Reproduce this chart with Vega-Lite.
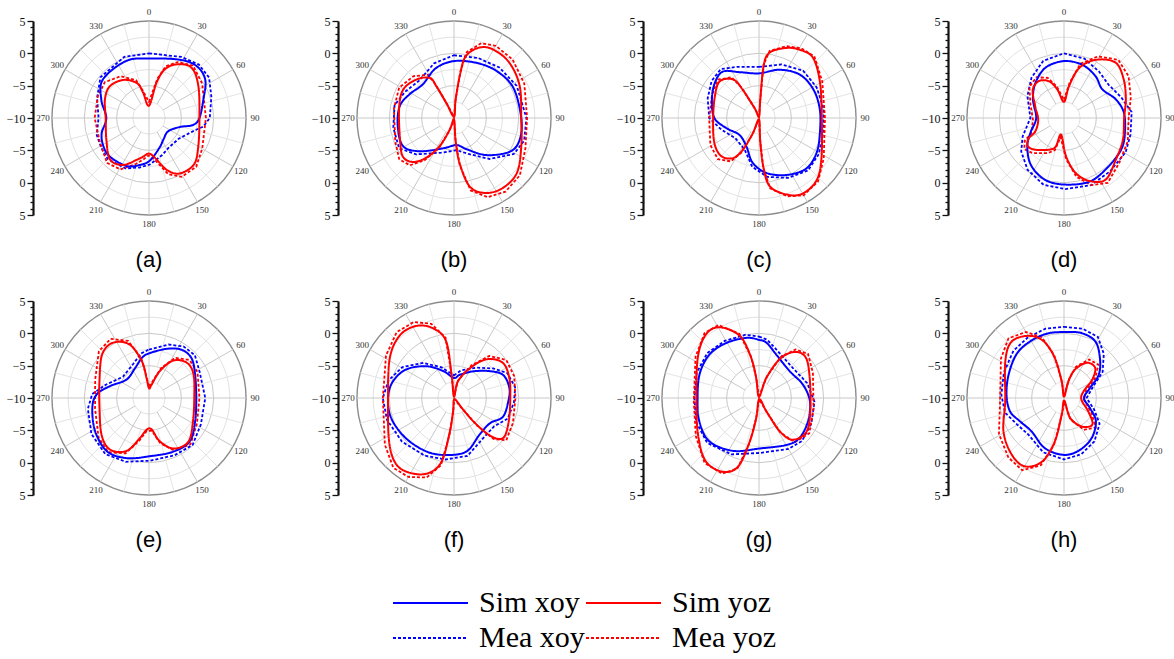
{
  "$schema": "https://vega.github.io/schema/vega-lite/v6.json",
  "background": "white",
  "padding": {"left": 6, "top": 7, "right": 0, "bottom": 0},
  "bounds": "flush",
  "columns": 4,
  "spacing": {"row": 86, "column": 111},
  "config": {"view": {"stroke": null}, "header": {"labels": false, "title": null}, "headerFacet": {"labels": false, "title": null}},
  "data": {"values": [
    {"k":"ring","g":-7.5,"p":["a","b","c","d","e","f","g","h"]},
    {"k":"ring","g":-5,"p":["a","b","c","d","e","f","g","h"]},
    {"k":"ring","g":-2.5,"p":["a","b","c","d","e","f","g","h"]},
    {"k":"ring","g":0,"p":["a","b","c","d","e","f","g","h"]},
    {"k":"ring","g":2.5,"p":["a","b","c","d","e","f","g","h"]},
    {"k":"ring","g":5,"p":["a","b","c","d","e","f","g","h"]},
    {"k":"spoke","a":0,"p":["a","b","c","d","e","f","g","h"]},
    {"k":"spoke","a":15,"p":["a","b","c","d","e","f","g","h"]},
    {"k":"spoke","a":30,"p":["a","b","c","d","e","f","g","h"]},
    {"k":"spoke","a":45,"p":["a","b","c","d","e","f","g","h"]},
    {"k":"spoke","a":60,"p":["a","b","c","d","e","f","g","h"]},
    {"k":"spoke","a":75,"p":["a","b","c","d","e","f","g","h"]},
    {"k":"spoke","a":90,"p":["a","b","c","d","e","f","g","h"]},
    {"k":"spoke","a":105,"p":["a","b","c","d","e","f","g","h"]},
    {"k":"spoke","a":120,"p":["a","b","c","d","e","f","g","h"]},
    {"k":"spoke","a":135,"p":["a","b","c","d","e","f","g","h"]},
    {"k":"spoke","a":150,"p":["a","b","c","d","e","f","g","h"]},
    {"k":"spoke","a":165,"p":["a","b","c","d","e","f","g","h"]},
    {"k":"spoke","a":180,"p":["a","b","c","d","e","f","g","h"]},
    {"k":"spoke","a":195,"p":["a","b","c","d","e","f","g","h"]},
    {"k":"spoke","a":210,"p":["a","b","c","d","e","f","g","h"]},
    {"k":"spoke","a":225,"p":["a","b","c","d","e","f","g","h"]},
    {"k":"spoke","a":240,"p":["a","b","c","d","e","f","g","h"]},
    {"k":"spoke","a":255,"p":["a","b","c","d","e","f","g","h"]},
    {"k":"spoke","a":270,"p":["a","b","c","d","e","f","g","h"]},
    {"k":"spoke","a":285,"p":["a","b","c","d","e","f","g","h"]},
    {"k":"spoke","a":300,"p":["a","b","c","d","e","f","g","h"]},
    {"k":"spoke","a":315,"p":["a","b","c","d","e","f","g","h"]},
    {"k":"spoke","a":330,"p":["a","b","c","d","e","f","g","h"]},
    {"k":"spoke","a":345,"p":["a","b","c","d","e","f","g","h"]},

    {"p":"a","s":"Sim xoy","a":0,"g":-0.8},{"p":"a","s":"Sim xoy","a":28,"g":0.2},{"p":"a","s":"Sim xoy","a":43,"g":0.9},{"p":"a","s":"Sim xoy","a":56,"g":0.5},{"p":"a","s":"Sim xoy","a":71,"g":-1.1},{"p":"a","s":"Sim xoy","a":90,"g":-2.2},{"p":"a","s":"Sim xoy","a":99,"g":-3.1},{"p":"a","s":"Sim xoy","a":106,"g":-5.0},{"p":"a","s":"Sim xoy","a":125,"g":-6.4},{"p":"a","s":"Sim xoy","a":146,"g":-6.0},{"p":"a","s":"Sim xoy","a":161,"g":-5.1},{"p":"a","s":"Sim xoy","a":179,"g":-3.4},{"p":"a","s":"Sim xoy","a":191,"g":-2.6},{"p":"a","s":"Sim xoy","a":205,"g":-1.8},{"p":"a","s":"Sim xoy","a":225,"g":-1.5},{"p":"a","s":"Sim xoy","a":238,"g":-1.7},{"p":"a","s":"Sim xoy","a":252,"g":-2.3},{"p":"a","s":"Sim xoy","a":270,"g":-3.4},{"p":"a","s":"Sim xoy","a":291,"g":-2.1},{"p":"a","s":"Sim xoy","a":310,"g":-0.7},{"p":"a","s":"Sim xoy","a":338,"g":-0.5},
    {"p":"a","s":"Mea xoy","a":0,"g":0.0},{"p":"a","s":"Mea xoy","a":28,"g":0.7},{"p":"a","s":"Mea xoy","a":43,"g":1.3},{"p":"a","s":"Mea xoy","a":56,"g":1.2},{"p":"a","s":"Mea xoy","a":71,"g":0.2},{"p":"a","s":"Mea xoy","a":90,"g":-0.6},{"p":"a","s":"Mea xoy","a":99,"g":-1.5},{"p":"a","s":"Mea xoy","a":106,"g":-2.8},{"p":"a","s":"Mea xoy","a":125,"g":-4.4},{"p":"a","s":"Mea xoy","a":146,"g":-4.5},{"p":"a","s":"Mea xoy","a":161,"g":-3.9},{"p":"a","s":"Mea xoy","a":179,"g":-2.8},{"p":"a","s":"Mea xoy","a":191,"g":-2.2},{"p":"a","s":"Mea xoy","a":205,"g":-1.4},{"p":"a","s":"Mea xoy","a":225,"g":-1.0},{"p":"a","s":"Mea xoy","a":238,"g":-1.3},{"p":"a","s":"Mea xoy","a":252,"g":-1.5},{"p":"a","s":"Mea xoy","a":270,"g":-2.2},{"p":"a","s":"Mea xoy","a":291,"g":-1.4},{"p":"a","s":"Mea xoy","a":310,"g":-0.2},{"p":"a","s":"Mea xoy","a":338,"g":0.2},
    {"p":"a","s":"Sim yoz","a":0,"g":-8.1},{"p":"a","s":"Sim yoz","a":12,"g":-4.4},{"p":"a","s":"Sim yoz","a":18,"g":-2.1},{"p":"a","s":"Sim yoz","a":27,"g":-0.7},{"p":"a","s":"Sim yoz","a":40,"g":0.2},{"p":"a","s":"Sim yoz","a":57,"g":-0.9},{"p":"a","s":"Sim yoz","a":90,"g":-2.2},{"p":"a","s":"Sim yoz","a":120,"g":-1.2},{"p":"a","s":"Sim yoz","a":136,"g":0.0},{"p":"a","s":"Sim yoz","a":151,"g":-0.2},{"p":"a","s":"Sim yoz","a":161,"g":-1.5},{"p":"a","s":"Sim yoz","a":173,"g":-4.0},{"p":"a","s":"Sim yoz","a":181,"g":-4.5},{"p":"a","s":"Sim yoz","a":188,"g":-4.0},{"p":"a","s":"Sim yoz","a":196,"g":-3.3},{"p":"a","s":"Sim yoz","a":209,"g":-1.7},{"p":"a","s":"Sim yoz","a":223,"g":-1.2},{"p":"a","s":"Sim yoz","a":243,"g":-2.6},{"p":"a","s":"Sim yoz","a":270,"g":-3.3},{"p":"a","s":"Sim yoz","a":293,"g":-2.6},{"p":"a","s":"Sim yoz","a":309,"g":-2.2},{"p":"a","s":"Sim yoz","a":326,"g":-2.9},{"p":"a","s":"Sim yoz","a":341,"g":-4.3},{"p":"a","s":"Sim yoz","a":347,"g":-6.0},
    {"p":"a","s":"Mea yoz","a":0,"g":-7.5},{"p":"a","s":"Mea yoz","a":12,"g":-3.8},{"p":"a","s":"Mea yoz","a":18,"g":-1.6},{"p":"a","s":"Mea yoz","a":27,"g":-0.3},{"p":"a","s":"Mea yoz","a":40,"g":0.6},{"p":"a","s":"Mea yoz","a":57,"g":-0.2},{"p":"a","s":"Mea yoz","a":90,"g":-1.2},{"p":"a","s":"Mea yoz","a":120,"g":-0.5},{"p":"a","s":"Mea yoz","a":136,"g":0.5},{"p":"a","s":"Mea yoz","a":151,"g":0.4},{"p":"a","s":"Mea yoz","a":161,"g":-0.8},{"p":"a","s":"Mea yoz","a":173,"g":-3.6},{"p":"a","s":"Mea yoz","a":181,"g":-4.2},{"p":"a","s":"Mea yoz","a":188,"g":-3.5},{"p":"a","s":"Mea yoz","a":196,"g":-2.6},{"p":"a","s":"Mea yoz","a":209,"g":-0.9},{"p":"a","s":"Mea yoz","a":223,"g":-0.5},{"p":"a","s":"Mea yoz","a":243,"g":-1.5},{"p":"a","s":"Mea yoz","a":270,"g":-1.6},{"p":"a","s":"Mea yoz","a":293,"g":-1.4},{"p":"a","s":"Mea yoz","a":309,"g":-1.2},{"p":"a","s":"Mea yoz","a":326,"g":-2.2},{"p":"a","s":"Mea yoz","a":341,"g":-3.8},{"p":"a","s":"Mea yoz","a":347,"g":-5.6},

    {"p":"b","s":"Sim xoy","a":0,"g":-1.2},{"p":"b","s":"Sim xoy","a":22,"g":-0.8},{"p":"b","s":"Sim xoy","a":42,"g":-0.2},{"p":"b","s":"Sim xoy","a":63,"g":0.3},{"p":"b","s":"Sim xoy","a":90,"g":0.4},{"p":"b","s":"Sim xoy","a":108,"g":0.7},{"p":"b","s":"Sim xoy","a":121,"g":0.1},{"p":"b","s":"Sim xoy","a":139,"g":-2.4},{"p":"b","s":"Sim xoy","a":158,"g":-4.8},{"p":"b","s":"Sim xoy","a":175,"g":-5.8},{"p":"b","s":"Sim xoy","a":200,"g":-5.0},{"p":"b","s":"Sim xoy","a":226,"g":-2.6},{"p":"b","s":"Sim xoy","a":241,"g":-1.0},{"p":"b","s":"Sim xoy","a":261,"g":-1.2},{"p":"b","s":"Sim xoy","a":282,"g":-1.4},{"p":"b","s":"Sim xoy","a":298,"g":-2.2},{"p":"b","s":"Sim xoy","a":317,"g":-2.9},{"p":"b","s":"Sim xoy","a":340,"g":-1.8},
    {"p":"b","s":"Mea xoy","a":0,"g":-0.3},{"p":"b","s":"Mea xoy","a":22,"g":0.0},{"p":"b","s":"Mea xoy","a":42,"g":0.5},{"p":"b","s":"Mea xoy","a":63,"g":0.9},{"p":"b","s":"Mea xoy","a":90,"g":1.2},{"p":"b","s":"Mea xoy","a":108,"g":1.4},{"p":"b","s":"Mea xoy","a":121,"g":0.8},{"p":"b","s":"Mea xoy","a":139,"g":-1.6},{"p":"b","s":"Mea xoy","a":158,"g":-4.0},{"p":"b","s":"Mea xoy","a":175,"g":-5.0},{"p":"b","s":"Mea xoy","a":200,"g":-4.3},{"p":"b","s":"Mea xoy","a":226,"g":-1.9},{"p":"b","s":"Mea xoy","a":241,"g":-0.3},{"p":"b","s":"Mea xoy","a":261,"g":-0.5},{"p":"b","s":"Mea xoy","a":282,"g":-0.6},{"p":"b","s":"Mea xoy","a":298,"g":-1.4},{"p":"b","s":"Mea xoy","a":317,"g":-2.1},{"p":"b","s":"Mea xoy","a":340,"g":-1.0},
    {"p":"b","s":"Sim yoz","a":0,"g":-9.8},{"p":"b","s":"Sim yoz","a":5,"g":-7.2},{"p":"b","s":"Sim yoz","a":8,"g":-3.0},{"p":"b","s":"Sim yoz","a":11,"g":-0.2},{"p":"b","s":"Sim yoz","a":20,"g":1.6},{"p":"b","s":"Sim yoz","a":30,"g":2.2},{"p":"b","s":"Sim yoz","a":45,"g":2.1},{"p":"b","s":"Sim yoz","a":64,"g":1.3},{"p":"b","s":"Sim yoz","a":90,"g":0.4},{"p":"b","s":"Sim yoz","a":113,"g":1.3},{"p":"b","s":"Sim yoz","a":131,"g":2.9},{"p":"b","s":"Sim yoz","a":145,"g":3.2},{"p":"b","s":"Sim yoz","a":157,"g":2.6},{"p":"b","s":"Sim yoz","a":167,"g":0.9},{"p":"b","s":"Sim yoz","a":173,"g":-3.0},{"p":"b","s":"Sim yoz","a":176,"g":-6.6},{"p":"b","s":"Sim yoz","a":180,"g":-9.8},{"p":"b","s":"Sim yoz","a":200,"g":-8.1},{"p":"b","s":"Sim yoz","a":207,"g":-5.1},{"p":"b","s":"Sim yoz","a":215,"g":-2.5},{"p":"b","s":"Sim yoz","a":223,"g":-0.7},{"p":"b","s":"Sim yoz","a":233,"g":-0.1},{"p":"b","s":"Sim yoz","a":248,"g":-1.0},{"p":"b","s":"Sim yoz","a":279,"g":-1.4},{"p":"b","s":"Sim yoz","a":299,"g":-1.0},{"p":"b","s":"Sim yoz","a":316,"g":-1.7},{"p":"b","s":"Sim yoz","a":329,"g":-2.8},{"p":"b","s":"Sim yoz","a":331,"g":-4.4},{"p":"b","s":"Sim yoz","a":333,"g":-7.4},
    {"p":"b","s":"Mea yoz","a":0,"g":-9.8},{"p":"b","s":"Mea yoz","a":5,"g":-7.0},{"p":"b","s":"Mea yoz","a":8,"g":-2.6},{"p":"b","s":"Mea yoz","a":11,"g":0.4},{"p":"b","s":"Mea yoz","a":20,"g":2.3},{"p":"b","s":"Mea yoz","a":30,"g":2.9},{"p":"b","s":"Mea yoz","a":45,"g":2.8},{"p":"b","s":"Mea yoz","a":64,"g":2.1},{"p":"b","s":"Mea yoz","a":90,"g":1.3},{"p":"b","s":"Mea yoz","a":113,"g":2.0},{"p":"b","s":"Mea yoz","a":131,"g":3.5},{"p":"b","s":"Mea yoz","a":145,"g":3.9},{"p":"b","s":"Mea yoz","a":157,"g":3.3},{"p":"b","s":"Mea yoz","a":167,"g":1.5},{"p":"b","s":"Mea yoz","a":173,"g":-2.6},{"p":"b","s":"Mea yoz","a":176,"g":-6.4},{"p":"b","s":"Mea yoz","a":180,"g":-9.8},{"p":"b","s":"Mea yoz","a":200,"g":-7.9},{"p":"b","s":"Mea yoz","a":207,"g":-4.7},{"p":"b","s":"Mea yoz","a":215,"g":-2.0},{"p":"b","s":"Mea yoz","a":223,"g":0.0},{"p":"b","s":"Mea yoz","a":233,"g":0.6},{"p":"b","s":"Mea yoz","a":248,"g":-0.2},{"p":"b","s":"Mea yoz","a":279,"g":-0.6},{"p":"b","s":"Mea yoz","a":299,"g":-0.3},{"p":"b","s":"Mea yoz","a":316,"g":-1.0},{"p":"b","s":"Mea yoz","a":329,"g":-2.2},{"p":"b","s":"Mea yoz","a":331,"g":-4.0},{"p":"b","s":"Mea yoz","a":333,"g":-7.2},

    {"p":"c","s":"Sim xoy","a":0,"g":-3.1},{"p":"c","s":"Sim xoy","a":23,"g":-1.9},{"p":"c","s":"Sim xoy","a":43,"g":-0.8},{"p":"c","s":"Sim xoy","a":62,"g":-0.5},{"p":"c","s":"Sim xoy","a":82,"g":-0.5},{"p":"c","s":"Sim xoy","a":104,"g":-0.3},{"p":"c","s":"Sim xoy","a":121,"g":0.4},{"p":"c","s":"Sim xoy","a":137,"g":0.7},{"p":"c","s":"Sim xoy","a":154,"g":-0.2},{"p":"c","s":"Sim xoy","a":172,"g":-1.4},{"p":"c","s":"Sim xoy","a":188,"g":-3.0},{"p":"c","s":"Sim xoy","a":204,"g":-5.2},{"p":"c","s":"Sim xoy","a":229,"g":-6.0},{"p":"c","s":"Sim xoy","a":253,"g":-4.7},{"p":"c","s":"Sim xoy","a":270,"g":-3.1},{"p":"c","s":"Sim xoy","a":291,"g":-2.2},{"p":"c","s":"Sim xoy","a":308,"g":-1.3},{"p":"c","s":"Sim xoy","a":322,"g":-0.9},{"p":"c","s":"Sim xoy","a":337,"g":-2.3},
    {"p":"c","s":"Mea xoy","a":0,"g":-2.1},{"p":"c","s":"Mea xoy","a":23,"g":-1.0},{"p":"c","s":"Mea xoy","a":43,"g":0.0},{"p":"c","s":"Mea xoy","a":62,"g":0.1},{"p":"c","s":"Mea xoy","a":82,"g":0.1},{"p":"c","s":"Mea xoy","a":104,"g":0.2},{"p":"c","s":"Mea xoy","a":121,"g":0.8},{"p":"c","s":"Mea xoy","a":137,"g":1.1},{"p":"c","s":"Mea xoy","a":154,"g":0.3},{"p":"c","s":"Mea xoy","a":172,"g":-0.8},{"p":"c","s":"Mea xoy","a":188,"g":-2.4},{"p":"c","s":"Mea xoy","a":204,"g":-4.6},{"p":"c","s":"Mea xoy","a":229,"g":-5.2},{"p":"c","s":"Mea xoy","a":253,"g":-3.9},{"p":"c","s":"Mea xoy","a":270,"g":-2.3},{"p":"c","s":"Mea xoy","a":291,"g":-1.5},{"p":"c","s":"Mea xoy","a":308,"g":-0.7},{"p":"c","s":"Mea xoy","a":322,"g":-0.4},{"p":"c","s":"Mea xoy","a":337,"g":-1.4},
    {"p":"c","s":"Sim yoz","a":0,"g":-9.8},{"p":"c","s":"Sim yoz","a":4,"g":-7.2},{"p":"c","s":"Sim yoz","a":5,"g":-2.0},{"p":"c","s":"Sim yoz","a":9,"g":0.2},{"p":"c","s":"Sim yoz","a":21,"g":1.6},{"p":"c","s":"Sim yoz","a":31,"g":2.3},{"p":"c","s":"Sim yoz","a":42,"g":2.5},{"p":"c","s":"Sim yoz","a":60,"g":0.9},{"p":"c","s":"Sim yoz","a":90,"g":-0.3},{"p":"c","s":"Sim yoz","a":122,"g":1.4},{"p":"c","s":"Sim yoz","a":137,"g":3.1},{"p":"c","s":"Sim yoz","a":150,"g":3.5},{"p":"c","s":"Sim yoz","a":160,"g":2.6},{"p":"c","s":"Sim yoz","a":171,"g":0.7},{"p":"c","s":"Sim yoz","a":175,"g":-2.5},{"p":"c","s":"Sim yoz","a":177,"g":-6.6},{"p":"c","s":"Sim yoz","a":180,"g":-9.8},{"p":"c","s":"Sim yoz","a":202,"g":-7.5},{"p":"c","s":"Sim yoz","a":207,"g":-4.5},{"p":"c","s":"Sim yoz","a":213,"g":-2.6},{"p":"c","s":"Sim yoz","a":225,"g":-1.7},{"p":"c","s":"Sim yoz","a":241,"g":-2.1},{"p":"c","s":"Sim yoz","a":268,"g":-2.9},{"p":"c","s":"Sim yoz","a":296,"g":-2.4},{"p":"c","s":"Sim yoz","a":313,"g":-1.7},{"p":"c","s":"Sim yoz","a":326,"g":-2.8},{"p":"c","s":"Sim yoz","a":330,"g":-4.9},{"p":"c","s":"Sim yoz","a":336,"g":-8.4},
    {"p":"c","s":"Mea yoz","a":0,"g":-9.8},{"p":"c","s":"Mea yoz","a":4,"g":-7.0},{"p":"c","s":"Mea yoz","a":5,"g":-1.7},{"p":"c","s":"Mea yoz","a":9,"g":0.5},{"p":"c","s":"Mea yoz","a":21,"g":1.9},{"p":"c","s":"Mea yoz","a":31,"g":2.6},{"p":"c","s":"Mea yoz","a":42,"g":2.8},{"p":"c","s":"Mea yoz","a":60,"g":1.3},{"p":"c","s":"Mea yoz","a":90,"g":0.2},{"p":"c","s":"Mea yoz","a":122,"g":1.8},{"p":"c","s":"Mea yoz","a":137,"g":3.4},{"p":"c","s":"Mea yoz","a":150,"g":3.8},{"p":"c","s":"Mea yoz","a":160,"g":2.9},{"p":"c","s":"Mea yoz","a":171,"g":1.0},{"p":"c","s":"Mea yoz","a":175,"g":-2.2},{"p":"c","s":"Mea yoz","a":177,"g":-6.4},{"p":"c","s":"Mea yoz","a":180,"g":-9.8},{"p":"c","s":"Mea yoz","a":202,"g":-7.2},{"p":"c","s":"Mea yoz","a":207,"g":-4.0},{"p":"c","s":"Mea yoz","a":213,"g":-2.0},{"p":"c","s":"Mea yoz","a":225,"g":-1.0},{"p":"c","s":"Mea yoz","a":241,"g":-1.4},{"p":"c","s":"Mea yoz","a":268,"g":-2.3},{"p":"c","s":"Mea yoz","a":296,"g":-1.9},{"p":"c","s":"Mea yoz","a":313,"g":-1.3},{"p":"c","s":"Mea yoz","a":326,"g":-2.4},{"p":"c","s":"Mea yoz","a":330,"g":-4.5},{"p":"c","s":"Mea yoz","a":336,"g":-8.2},

    {"p":"d","s":"Sim xoy","a":0,"g":-1.2},{"p":"d","s":"Sim xoy","a":19,"g":-1.3},{"p":"d","s":"Sim xoy","a":37,"g":-1.9},{"p":"d","s":"Sim xoy","a":53,"g":-2.6},{"p":"d","s":"Sim xoy","a":70,"g":-1.5},{"p":"d","s":"Sim xoy","a":85,"g":-0.7},{"p":"d","s":"Sim xoy","a":104,"g":-0.3},{"p":"d","s":"Sim xoy","a":119,"g":0.1},{"p":"d","s":"Sim xoy","a":139,"g":0.2},{"p":"d","s":"Sim xoy","a":158,"g":0.6},{"p":"d","s":"Sim xoy","a":179,"g":0.3},{"p":"d","s":"Sim xoy","a":197,"g":0.0},{"p":"d","s":"Sim xoy","a":215,"g":-1.1},{"p":"d","s":"Sim xoy","a":232,"g":-2.8},{"p":"d","s":"Sim xoy","a":246,"g":-4.3},{"p":"d","s":"Sim xoy","a":270,"g":-5.7},{"p":"d","s":"Sim xoy","a":301,"g":-4.4},{"p":"d","s":"Sim xoy","a":321,"g":-3.0},{"p":"d","s":"Sim xoy","a":340,"g":-1.7},
    {"p":"d","s":"Mea xoy","a":0,"g":0.0},{"p":"d","s":"Mea xoy","a":19,"g":-0.3},{"p":"d","s":"Mea xoy","a":37,"g":-1.0},{"p":"d","s":"Mea xoy","a":53,"g":-1.4},{"p":"d","s":"Mea xoy","a":70,"g":-0.6},{"p":"d","s":"Mea xoy","a":85,"g":0.5},{"p":"d","s":"Mea xoy","a":104,"g":0.6},{"p":"d","s":"Mea xoy","a":119,"g":0.9},{"p":"d","s":"Mea xoy","a":139,"g":0.9},{"p":"d","s":"Mea xoy","a":158,"g":1.2},{"p":"d","s":"Mea xoy","a":179,"g":1.0},{"p":"d","s":"Mea xoy","a":197,"g":0.8},{"p":"d","s":"Mea xoy","a":215,"g":-0.2},{"p":"d","s":"Mea xoy","a":232,"g":-1.6},{"p":"d","s":"Mea xoy","a":246,"g":-3.0},{"p":"d","s":"Mea xoy","a":270,"g":-4.8},{"p":"d","s":"Mea xoy","a":301,"g":-3.4},{"p":"d","s":"Mea xoy","a":321,"g":-2.0},{"p":"d","s":"Mea xoy","a":340,"g":-0.6},
    {"p":"d","s":"Sim yoz","a":0,"g":-7.5},{"p":"d","s":"Sim yoz","a":9,"g":-5.0},{"p":"d","s":"Sim yoz","a":17,"g":-1.9},{"p":"d","s":"Sim yoz","a":29,"g":0.3},{"p":"d","s":"Sim yoz","a":43,"g":1.7},{"p":"d","s":"Sim yoz","a":57,"g":1.0},{"p":"d","s":"Sim yoz","a":73,"g":0.0},{"p":"d","s":"Sim yoz","a":90,"g":-0.7},{"p":"d","s":"Sim yoz","a":110,"g":-0.3},{"p":"d","s":"Sim yoz","a":129,"g":0.3},{"p":"d","s":"Sim yoz","a":146,"g":1.5},{"p":"d","s":"Sim yoz","a":158,"g":0.5},{"p":"d","s":"Sim yoz","a":168,"g":-1.3},{"p":"d","s":"Sim yoz","a":177,"g":-4.1},{"p":"d","s":"Sim yoz","a":190,"g":-7.4},{"p":"d","s":"Sim yoz","a":196,"g":-5.4},{"p":"d","s":"Sim yoz","a":205,"g":-4.6},{"p":"d","s":"Sim yoz","a":222,"g":-3.4},{"p":"d","s":"Sim yoz","a":232,"g":-2.9},{"p":"d","s":"Sim yoz","a":240,"g":-3.7},{"p":"d","s":"Sim yoz","a":245,"g":-5.1},{"p":"d","s":"Sim yoz","a":266,"g":-6.0},{"p":"d","s":"Sim yoz","a":292,"g":-5.2},{"p":"d","s":"Sim yoz","a":312,"g":-3.5},{"p":"d","s":"Sim yoz","a":326,"g":-3.1},{"p":"d","s":"Sim yoz","a":338,"g":-3.9},{"p":"d","s":"Sim yoz","a":347,"g":-5.5},
    {"p":"d","s":"Mea yoz","a":0,"g":-7.2},{"p":"d","s":"Mea yoz","a":9,"g":-4.5},{"p":"d","s":"Mea yoz","a":17,"g":-1.2},{"p":"d","s":"Mea yoz","a":29,"g":0.9},{"p":"d","s":"Mea yoz","a":43,"g":2.3},{"p":"d","s":"Mea yoz","a":57,"g":1.9},{"p":"d","s":"Mea yoz","a":73,"g":0.8},{"p":"d","s":"Mea yoz","a":90,"g":0.0},{"p":"d","s":"Mea yoz","a":110,"g":0.5},{"p":"d","s":"Mea yoz","a":129,"g":1.0},{"p":"d","s":"Mea yoz","a":146,"g":2.1},{"p":"d","s":"Mea yoz","a":158,"g":1.2},{"p":"d","s":"Mea yoz","a":168,"g":-0.7},{"p":"d","s":"Mea yoz","a":177,"g":-3.6},{"p":"d","s":"Mea yoz","a":190,"g":-7.0},{"p":"d","s":"Mea yoz","a":196,"g":-4.8},{"p":"d","s":"Mea yoz","a":205,"g":-4.0},{"p":"d","s":"Mea yoz","a":222,"g":-2.7},{"p":"d","s":"Mea yoz","a":232,"g":-2.2},{"p":"d","s":"Mea yoz","a":240,"g":-3.0},{"p":"d","s":"Mea yoz","a":245,"g":-4.4},{"p":"d","s":"Mea yoz","a":266,"g":-5.2},{"p":"d","s":"Mea yoz","a":292,"g":-4.4},{"p":"d","s":"Mea yoz","a":312,"g":-2.8},{"p":"d","s":"Mea yoz","a":326,"g":-2.4},{"p":"d","s":"Mea yoz","a":338,"g":-3.3},{"p":"d","s":"Mea yoz","a":347,"g":-5.0},

    {"p":"e","s":"Sim xoy","a":0,"g":-3.1},{"p":"e","s":"Sim xoy","a":20,"g":-1.9},{"p":"e","s":"Sim xoy","a":34,"g":-1.0},{"p":"e","s":"Sim xoy","a":47,"g":-1.0},{"p":"e","s":"Sim xoy","a":63,"g":-2.0},{"p":"e","s":"Sim xoy","a":90,"g":-2.7},{"p":"e","s":"Sim xoy","a":117,"g":-2.0},{"p":"e","s":"Sim xoy","a":137,"g":-0.8},{"p":"e","s":"Sim xoy","a":156,"g":-0.9},{"p":"e","s":"Sim xoy","a":179,"g":-1.0},{"p":"e","s":"Sim xoy","a":200,"g":-0.1},{"p":"e","s":"Sim xoy","a":218,"g":0.5},{"p":"e","s":"Sim xoy","a":238,"g":-0.2},{"p":"e","s":"Sim xoy","a":260,"g":-1.1},{"p":"e","s":"Sim xoy","a":274,"g":-1.9},{"p":"e","s":"Sim xoy","a":287,"g":-3.7},{"p":"e","s":"Sim xoy","a":309,"g":-5.5},{"p":"e","s":"Sim xoy","a":335,"g":-4.9},{"p":"e","s":"Sim xoy","a":350,"g":-3.7},
    {"p":"e","s":"Mea xoy","a":0,"g":-2.5},{"p":"e","s":"Mea xoy","a":20,"g":-1.2},{"p":"e","s":"Mea xoy","a":34,"g":-0.4},{"p":"e","s":"Mea xoy","a":47,"g":-0.3},{"p":"e","s":"Mea xoy","a":63,"g":-1.2},{"p":"e","s":"Mea xoy","a":90,"g":-1.3},{"p":"e","s":"Mea xoy","a":117,"g":-1.0},{"p":"e","s":"Mea xoy","a":137,"g":-0.1},{"p":"e","s":"Mea xoy","a":156,"g":-0.3},{"p":"e","s":"Mea xoy","a":179,"g":-0.3},{"p":"e","s":"Mea xoy","a":200,"g":0.5},{"p":"e","s":"Mea xoy","a":218,"g":1.0},{"p":"e","s":"Mea xoy","a":238,"g":0.5},{"p":"e","s":"Mea xoy","a":260,"g":-0.4},{"p":"e","s":"Mea xoy","a":274,"g":-1.2},{"p":"e","s":"Mea xoy","a":287,"g":-3.0},{"p":"e","s":"Mea xoy","a":309,"g":-4.8},{"p":"e","s":"Mea xoy","a":335,"g":-4.2},{"p":"e","s":"Mea xoy","a":350,"g":-3.0},
    {"p":"e","s":"Sim yoz","a":0,"g":-8.5},{"p":"e","s":"Sim yoz","a":11,"g":-7.9},{"p":"e","s":"Sim yoz","a":22,"g":-5.5},{"p":"e","s":"Sim yoz","a":33,"g":-3.1},{"p":"e","s":"Sim yoz","a":47,"g":-2.0},{"p":"e","s":"Sim yoz","a":62,"g":-2.2},{"p":"e","s":"Sim yoz","a":90,"g":-3.0},{"p":"e","s":"Sim yoz","a":118,"g":-2.3},{"p":"e","s":"Sim yoz","a":138,"g":-0.9},{"p":"e","s":"Sim yoz","a":154,"g":-1.3},{"p":"e","s":"Sim yoz","a":166,"g":-3.1},{"p":"e","s":"Sim yoz","a":175,"g":-5.1},{"p":"e","s":"Sim yoz","a":184,"g":-5.1},{"p":"e","s":"Sim yoz","a":193,"g":-3.6},{"p":"e","s":"Sim yoz","a":203,"g":-1.1},{"p":"e","s":"Sim yoz","a":217,"g":0.0},{"p":"e","s":"Sim yoz","a":232,"g":-0.7},{"p":"e","s":"Sim yoz","a":259,"g":-2.2},{"p":"e","s":"Sim yoz","a":289,"g":-1.9},{"p":"e","s":"Sim yoz","a":313,"g":-0.1},{"p":"e","s":"Sim yoz","a":327,"g":0.2},{"p":"e","s":"Sim yoz","a":340,"g":-1.2},{"p":"e","s":"Sim yoz","a":349,"g":-4.2},{"p":"e","s":"Sim yoz","a":353,"g":-6.9},
    {"p":"e","s":"Mea yoz","a":0,"g":-8.2},{"p":"e","s":"Mea yoz","a":11,"g":-7.5},{"p":"e","s":"Mea yoz","a":22,"g":-5.0},{"p":"e","s":"Mea yoz","a":33,"g":-2.6},{"p":"e","s":"Mea yoz","a":47,"g":-1.4},{"p":"e","s":"Mea yoz","a":62,"g":-1.5},{"p":"e","s":"Mea yoz","a":90,"g":-2.2},{"p":"e","s":"Mea yoz","a":118,"g":-1.6},{"p":"e","s":"Mea yoz","a":138,"g":-0.4},{"p":"e","s":"Mea yoz","a":154,"g":-0.9},{"p":"e","s":"Mea yoz","a":166,"g":-2.8},{"p":"e","s":"Mea yoz","a":175,"g":-4.9},{"p":"e","s":"Mea yoz","a":184,"g":-4.9},{"p":"e","s":"Mea yoz","a":193,"g":-3.2},{"p":"e","s":"Mea yoz","a":203,"g":-0.7},{"p":"e","s":"Mea yoz","a":217,"g":0.5},{"p":"e","s":"Mea yoz","a":232,"g":-0.1},{"p":"e","s":"Mea yoz","a":259,"g":-1.5},{"p":"e","s":"Mea yoz","a":289,"g":-1.2},{"p":"e","s":"Mea yoz","a":313,"g":0.6},{"p":"e","s":"Mea yoz","a":327,"g":0.9},{"p":"e","s":"Mea yoz","a":340,"g":-0.6},{"p":"e","s":"Mea yoz","a":349,"g":-3.8},{"p":"e","s":"Mea yoz","a":353,"g":-6.6},

    {"p":"f","s":"Sim xoy","a":0,"g":-6.9},{"p":"f","s":"Sim xoy","a":14,"g":-6.3},{"p":"f","s":"Sim xoy","a":36,"g":-4.9},{"p":"f","s":"Sim xoy","a":53,"g":-3.1},{"p":"f","s":"Sim xoy","a":65,"g":-1.6},{"p":"f","s":"Sim xoy","a":80,"g":-1.3},{"p":"f","s":"Sim xoy","a":94,"g":-1.6},{"p":"f","s":"Sim xoy","a":111,"g":-1.9},{"p":"f","s":"Sim xoy","a":125,"g":-3.2},{"p":"f","s":"Sim xoy","a":145,"g":-3.1},{"p":"f","s":"Sim xoy","a":167,"g":-1.5},{"p":"f","s":"Sim xoy","a":188,"g":-1.1},{"p":"f","s":"Sim xoy","a":207,"g":-0.7},{"p":"f","s":"Sim xoy","a":230,"g":-0.3},{"p":"f","s":"Sim xoy","a":252,"g":0.2},{"p":"f","s":"Sim xoy","a":270,"g":0.2},{"p":"f","s":"Sim xoy","a":285,"g":-0.2},{"p":"f","s":"Sim xoy","a":301,"g":-1.4},{"p":"f","s":"Sim xoy","a":319,"g":-3.5},{"p":"f","s":"Sim xoy","a":338,"g":-5.5},
    {"p":"f","s":"Mea xoy","a":0,"g":-6.5},{"p":"f","s":"Mea xoy","a":14,"g":-5.6},{"p":"f","s":"Mea xoy","a":36,"g":-4.2},{"p":"f","s":"Mea xoy","a":53,"g":-2.4},{"p":"f","s":"Mea xoy","a":65,"g":-0.9},{"p":"f","s":"Mea xoy","a":80,"g":-0.4},{"p":"f","s":"Mea xoy","a":94,"g":-0.7},{"p":"f","s":"Mea xoy","a":111,"g":-1.1},{"p":"f","s":"Mea xoy","a":125,"g":-2.4},{"p":"f","s":"Mea xoy","a":145,"g":-2.3},{"p":"f","s":"Mea xoy","a":167,"g":-0.8},{"p":"f","s":"Mea xoy","a":188,"g":-0.4},{"p":"f","s":"Mea xoy","a":207,"g":0.0},{"p":"f","s":"Mea xoy","a":230,"g":0.5},{"p":"f","s":"Mea xoy","a":252,"g":0.9},{"p":"f","s":"Mea xoy","a":270,"g":1.0},{"p":"f","s":"Mea xoy","a":285,"g":0.5},{"p":"f","s":"Mea xoy","a":301,"g":-0.7},{"p":"f","s":"Mea xoy","a":319,"g":-2.8},{"p":"f","s":"Mea xoy","a":338,"g":-4.9},
    {"p":"f","s":"Sim yoz","a":0,"g":-9.8},{"p":"f","s":"Sim yoz","a":13,"g":-7.4},{"p":"f","s":"Sim yoz","a":28,"g":-4.8},{"p":"f","s":"Sim yoz","a":40,"g":-2.2},{"p":"f","s":"Sim yoz","a":54,"g":-0.7},{"p":"f","s":"Sim yoz","a":70,"g":-0.9},{"p":"f","s":"Sim yoz","a":90,"g":-1.3},{"p":"f","s":"Sim yoz","a":113,"g":-0.8},{"p":"f","s":"Sim yoz","a":129,"g":-0.2},{"p":"f","s":"Sim yoz","a":136,"g":-1.8},{"p":"f","s":"Sim yoz","a":140,"g":-4.9},{"p":"f","s":"Sim yoz","a":142,"g":-7.9},{"p":"f","s":"Sim yoz","a":160,"g":-9.8},{"p":"f","s":"Sim yoz","a":184,"g":-7.9},{"p":"f","s":"Sim yoz","a":187,"g":-4.8},{"p":"f","s":"Sim yoz","a":191,"g":0.0},{"p":"f","s":"Sim yoz","a":199,"g":2.3},{"p":"f","s":"Sim yoz","a":210,"g":3.4},{"p":"f","s":"Sim yoz","a":221,"g":3.6},{"p":"f","s":"Sim yoz","a":236,"g":2.1},{"p":"f","s":"Sim yoz","a":270,"g":0.2},{"p":"f","s":"Sim yoz","a":302,"g":1.7},{"p":"f","s":"Sim yoz","a":319,"g":2.8},{"p":"f","s":"Sim yoz","a":332,"g":2.6},{"p":"f","s":"Sim yoz","a":343,"g":1.3},{"p":"f","s":"Sim yoz","a":352,"g":-1.1},{"p":"f","s":"Sim yoz","a":354,"g":-6.4},
    {"p":"f","s":"Mea yoz","a":0,"g":-9.8},{"p":"f","s":"Mea yoz","a":13,"g":-7.2},{"p":"f","s":"Mea yoz","a":28,"g":-4.3},{"p":"f","s":"Mea yoz","a":40,"g":-1.5},{"p":"f","s":"Mea yoz","a":54,"g":0.0},{"p":"f","s":"Mea yoz","a":70,"g":-0.1},{"p":"f","s":"Mea yoz","a":90,"g":-0.5},{"p":"f","s":"Mea yoz","a":113,"g":-0.1},{"p":"f","s":"Mea yoz","a":129,"g":0.4},{"p":"f","s":"Mea yoz","a":136,"g":-1.2},{"p":"f","s":"Mea yoz","a":140,"g":-4.5},{"p":"f","s":"Mea yoz","a":142,"g":-7.7},{"p":"f","s":"Mea yoz","a":160,"g":-9.8},{"p":"f","s":"Mea yoz","a":184,"g":-7.7},{"p":"f","s":"Mea yoz","a":187,"g":-4.3},{"p":"f","s":"Mea yoz","a":191,"g":0.6},{"p":"f","s":"Mea yoz","a":199,"g":3.0},{"p":"f","s":"Mea yoz","a":210,"g":4.1},{"p":"f","s":"Mea yoz","a":221,"g":4.3},{"p":"f","s":"Mea yoz","a":236,"g":2.9},{"p":"f","s":"Mea yoz","a":270,"g":1.0},{"p":"f","s":"Mea yoz","a":302,"g":2.4},{"p":"f","s":"Mea yoz","a":319,"g":3.5},{"p":"f","s":"Mea yoz","a":332,"g":3.3},{"p":"f","s":"Mea yoz","a":343,"g":2.0},{"p":"f","s":"Mea yoz","a":352,"g":-0.6},{"p":"f","s":"Mea yoz","a":354,"g":-6.2},

    {"p":"g","s":"Sim xoy","a":0,"g":-1.0},{"p":"g","s":"Sim xoy","a":8,"g":-1.4},{"p":"g","s":"Sim xoy","a":22,"g":-2.8},{"p":"g","s":"Sim xoy","a":49,"g":-3.7},{"p":"g","s":"Sim xoy","a":73,"g":-2.9},{"p":"g","s":"Sim xoy","a":94,"g":-2.1},{"p":"g","s":"Sim xoy","a":116,"g":-1.6},{"p":"g","s":"Sim xoy","a":135,"g":-1.2},{"p":"g","s":"Sim xoy","a":150,"g":-1.6},{"p":"g","s":"Sim xoy","a":179,"g":-2.2},{"p":"g","s":"Sim xoy","a":206,"g":-0.9},{"p":"g","s":"Sim xoy","a":229,"g":0.2},{"p":"g","s":"Sim xoy","a":249,"g":-0.1},{"p":"g","s":"Sim xoy","a":270,"g":-0.5},{"p":"g","s":"Sim xoy","a":292,"g":-0.1},{"p":"g","s":"Sim xoy","a":311,"g":0.2},{"p":"g","s":"Sim xoy","a":329,"g":-0.1},{"p":"g","s":"Sim xoy","a":348,"g":-0.5},
    {"p":"g","s":"Mea xoy","a":0,"g":-0.5},{"p":"g","s":"Mea xoy","a":8,"g":-0.9},{"p":"g","s":"Mea xoy","a":22,"g":-2.2},{"p":"g","s":"Mea xoy","a":49,"g":-3.0},{"p":"g","s":"Mea xoy","a":73,"g":-2.2},{"p":"g","s":"Mea xoy","a":94,"g":-1.4},{"p":"g","s":"Mea xoy","a":116,"g":-1.0},{"p":"g","s":"Mea xoy","a":135,"g":-0.6},{"p":"g","s":"Mea xoy","a":150,"g":-0.9},{"p":"g","s":"Mea xoy","a":179,"g":-1.5},{"p":"g","s":"Mea xoy","a":206,"g":-0.3},{"p":"g","s":"Mea xoy","a":229,"g":0.6},{"p":"g","s":"Mea xoy","a":249,"g":0.4},{"p":"g","s":"Mea xoy","a":270,"g":0.0},{"p":"g","s":"Mea xoy","a":292,"g":0.4},{"p":"g","s":"Mea xoy","a":311,"g":0.6},{"p":"g","s":"Mea xoy","a":329,"g":0.3},{"p":"g","s":"Mea xoy","a":348,"g":0.0},
    {"p":"g","s":"Sim yoz","a":0,"g":-9.8},{"p":"g","s":"Sim yoz","a":20,"g":-6.7},{"p":"g","s":"Sim yoz","a":28,"g":-3.2},{"p":"g","s":"Sim yoz","a":37,"g":-1.1},{"p":"g","s":"Sim yoz","a":48,"g":-0.4},{"p":"g","s":"Sim yoz","a":65,"g":-1.4},{"p":"g","s":"Sim yoz","a":101,"g":-1.9},{"p":"g","s":"Sim yoz","a":125,"g":-1.0},{"p":"g","s":"Sim yoz","a":141,"g":-1.7},{"p":"g","s":"Sim yoz","a":148,"g":-3.9},{"p":"g","s":"Sim yoz","a":151,"g":-7.6},{"p":"g","s":"Sim yoz","a":170,"g":-9.8},{"p":"g","s":"Sim yoz","a":188,"g":-6.9},{"p":"g","s":"Sim yoz","a":192,"g":-3.1},{"p":"g","s":"Sim yoz","a":197,"g":1.1},{"p":"g","s":"Sim yoz","a":206,"g":2.7},{"p":"g","s":"Sim yoz","a":220,"g":2.8},{"p":"g","s":"Sim yoz","a":239,"g":1.0},{"p":"g","s":"Sim yoz","a":267,"g":-0.3},{"p":"g","s":"Sim yoz","a":303,"g":1.3},{"p":"g","s":"Sim yoz","a":320,"g":2.8},{"p":"g","s":"Sim yoz","a":331,"g":2.5},{"p":"g","s":"Sim yoz","a":343,"g":0.0},{"p":"g","s":"Sim yoz","a":349,"g":-3.7},{"p":"g","s":"Sim yoz","a":352,"g":-6.9},
    {"p":"g","s":"Mea yoz","a":0,"g":-9.8},{"p":"g","s":"Mea yoz","a":20,"g":-6.5},{"p":"g","s":"Mea yoz","a":28,"g":-2.8},{"p":"g","s":"Mea yoz","a":37,"g":-0.6},{"p":"g","s":"Mea yoz","a":48,"g":0.2},{"p":"g","s":"Mea yoz","a":65,"g":-0.8},{"p":"g","s":"Mea yoz","a":101,"g":-1.4},{"p":"g","s":"Mea yoz","a":125,"g":-0.5},{"p":"g","s":"Mea yoz","a":141,"g":-1.2},{"p":"g","s":"Mea yoz","a":148,"g":-3.6},{"p":"g","s":"Mea yoz","a":151,"g":-7.4},{"p":"g","s":"Mea yoz","a":170,"g":-9.8},{"p":"g","s":"Mea yoz","a":188,"g":-6.7},{"p":"g","s":"Mea yoz","a":192,"g":-2.8},{"p":"g","s":"Mea yoz","a":197,"g":1.4},{"p":"g","s":"Mea yoz","a":206,"g":3.0},{"p":"g","s":"Mea yoz","a":220,"g":3.1},{"p":"g","s":"Mea yoz","a":239,"g":1.4},{"p":"g","s":"Mea yoz","a":267,"g":0.1},{"p":"g","s":"Mea yoz","a":303,"g":1.7},{"p":"g","s":"Mea yoz","a":320,"g":3.1},{"p":"g","s":"Mea yoz","a":331,"g":2.9},{"p":"g","s":"Mea yoz","a":343,"g":0.4},{"p":"g","s":"Mea yoz","a":349,"g":-3.4},{"p":"g","s":"Mea yoz","a":352,"g":-6.7},

    {"p":"h","s":"Sim xoy","a":0,"g":0.2},{"p":"h","s":"Sim xoy","a":15,"g":0.4},{"p":"h","s":"Sim xoy","a":29,"g":0.0},{"p":"h","s":"Sim xoy","a":42,"g":-1.7},{"p":"h","s":"Sim xoy","a":56,"g":-3.5},{"p":"h","s":"Sim xoy","a":69,"g":-5.7},{"p":"h","s":"Sim xoy","a":90,"g":-6.9},{"p":"h","s":"Sim xoy","a":111,"g":-5.7},{"p":"h","s":"Sim xoy","a":126,"g":-3.9},{"p":"h","s":"Sim xoy","a":145,"g":-2.5},{"p":"h","s":"Sim xoy","a":163,"g":-1.6},{"p":"h","s":"Sim xoy","a":180,"g":-1.2},{"p":"h","s":"Sim xoy","a":201,"g":-1.7},{"p":"h","s":"Sim xoy","a":224,"g":-2.8},{"p":"h","s":"Sim xoy","a":242,"g":-2.3},{"p":"h","s":"Sim xoy","a":256,"g":-1.4},{"p":"h","s":"Sim xoy","a":273,"g":-1.1},{"p":"h","s":"Sim xoy","a":293,"g":-0.7},{"p":"h","s":"Sim xoy","a":313,"g":0.0},{"p":"h","s":"Sim xoy","a":329,"g":0.2},{"p":"h","s":"Sim xoy","a":345,"g":0.3},
    {"p":"h","s":"Mea xoy","a":0,"g":1.0},{"p":"h","s":"Mea xoy","a":15,"g":1.1},{"p":"h","s":"Mea xoy","a":29,"g":0.8},{"p":"h","s":"Mea xoy","a":42,"g":-0.8},{"p":"h","s":"Mea xoy","a":56,"g":-2.8},{"p":"h","s":"Mea xoy","a":69,"g":-5.2},{"p":"h","s":"Mea xoy","a":90,"g":-6.5},{"p":"h","s":"Mea xoy","a":111,"g":-5.0},{"p":"h","s":"Mea xoy","a":126,"g":-3.2},{"p":"h","s":"Mea xoy","a":145,"g":-1.8},{"p":"h","s":"Mea xoy","a":163,"g":-0.9},{"p":"h","s":"Mea xoy","a":180,"g":-0.5},{"p":"h","s":"Mea xoy","a":201,"g":-1.0},{"p":"h","s":"Mea xoy","a":224,"g":-2.1},{"p":"h","s":"Mea xoy","a":242,"g":-1.6},{"p":"h","s":"Mea xoy","a":256,"g":-0.6},{"p":"h","s":"Mea xoy","a":273,"g":-0.3},{"p":"h","s":"Mea xoy","a":293,"g":0.1},{"p":"h","s":"Mea xoy","a":313,"g":0.7},{"p":"h","s":"Mea xoy","a":329,"g":0.9},{"p":"h","s":"Mea xoy","a":345,"g":1.1},
    {"p":"h","s":"Sim yoz","a":0,"g":-9.8},{"p":"h","s":"Sim yoz","a":15,"g":-7.3},{"p":"h","s":"Sim yoz","a":21,"g":-5.3},{"p":"h","s":"Sim yoz","a":33,"g":-3.5},{"p":"h","s":"Sim yoz","a":46,"g":-3.3},{"p":"h","s":"Sim yoz","a":57,"g":-4.8},{"p":"h","s":"Sim yoz","a":71,"g":-6.8},{"p":"h","s":"Sim yoz","a":95,"g":-7.3},{"p":"h","s":"Sim yoz","a":119,"g":-5.7},{"p":"h","s":"Sim yoz","a":133,"g":-4.0},{"p":"h","s":"Sim yoz","a":148,"g":-4.8},{"p":"h","s":"Sim yoz","a":163,"g":-6.8},{"p":"h","s":"Sim yoz","a":175,"g":-9.6},{"p":"h","s":"Sim yoz","a":188,"g":-7.4},{"p":"h","s":"Sim yoz","a":192,"g":-3.1},{"p":"h","s":"Sim yoz","a":199,"g":0.4},{"p":"h","s":"Sim yoz","a":210,"g":2.2},{"p":"h","s":"Sim yoz","a":223,"g":1.9},{"p":"h","s":"Sim yoz","a":241,"g":0.7},{"p":"h","s":"Sim yoz","a":267,"g":-0.9},{"p":"h","s":"Sim yoz","a":302,"g":0.7},{"p":"h","s":"Sim yoz","a":317,"g":1.9},{"p":"h","s":"Sim yoz","a":330,"g":1.1},{"p":"h","s":"Sim yoz","a":340,"g":-0.6},{"p":"h","s":"Sim yoz","a":347,"g":-3.6},{"p":"h","s":"Sim yoz","a":352,"g":-7.4},
    {"p":"h","s":"Mea yoz","a":0,"g":-9.6},{"p":"h","s":"Mea yoz","a":15,"g":-7.0},{"p":"h","s":"Mea yoz","a":21,"g":-4.8},{"p":"h","s":"Mea yoz","a":33,"g":-2.9},{"p":"h","s":"Mea yoz","a":46,"g":-2.6},{"p":"h","s":"Mea yoz","a":57,"g":-4.2},{"p":"h","s":"Mea yoz","a":71,"g":-6.4},{"p":"h","s":"Mea yoz","a":95,"g":-6.9},{"p":"h","s":"Mea yoz","a":119,"g":-5.1},{"p":"h","s":"Mea yoz","a":133,"g":-3.3},{"p":"h","s":"Mea yoz","a":148,"g":-4.2},{"p":"h","s":"Mea yoz","a":163,"g":-6.5},{"p":"h","s":"Mea yoz","a":175,"g":-9.4},{"p":"h","s":"Mea yoz","a":188,"g":-7.1},{"p":"h","s":"Mea yoz","a":192,"g":-2.6},{"p":"h","s":"Mea yoz","a":199,"g":1.0},{"p":"h","s":"Mea yoz","a":210,"g":2.9},{"p":"h","s":"Mea yoz","a":223,"g":2.6},{"p":"h","s":"Mea yoz","a":241,"g":1.5},{"p":"h","s":"Mea yoz","a":267,"g":-0.1},{"p":"h","s":"Mea yoz","a":302,"g":1.5},{"p":"h","s":"Mea yoz","a":317,"g":2.6},{"p":"h","s":"Mea yoz","a":330,"g":1.8},{"p":"h","s":"Mea yoz","a":340,"g":0.0},{"p":"h","s":"Mea yoz","a":347,"g":-3.2},{"p":"h","s":"Mea yoz","a":352,"g":-7.1}
  ]},
  "transform": [{"flatten": ["p"]}],
  "facet": {"field": "p", "type": "nominal", "title": null, "header": {"labels": false, "title": null, "labelExpr": "''", "labelFontSize": 1, "labelPadding": 0}},
  "resolve": {"axis": {"y": "independent"}},
  "spec": {
    "width": 194,
    "height": 194,
    "layer": [
      {
        "transform": [{"filter": "datum.k === 'ring'"}],
        "mark": {"type": "arc", "theta": 0, "theta2": 6.2832, "filled": false, "tooltip": false},
        "encoding": {
          "radius": {"field": "g", "type": "quantitative", "stack": null, "scale": {"type": "linear", "domain": [-10, 5], "range": [0, 97], "zero": false, "nice": false}},
          "radius2": {"value": 0},
          "stroke": {"condition": [{"test": "datum.g === 5", "value": "#8c8c8c"}, {"test": "datum.g % 5 === 0", "value": "#c8c8c8"}], "value": "#e2e2e2"},
          "strokeWidth": {"condition": {"test": "datum.g === 5", "value": 1.4}, "value": 1}
        }
      },
      {
        "transform": [
          {"filter": "datum.k === 'spoke'"},
          {"calculate": "datum.a % 90 === 0 ? 0 : (datum.a % 30 === 0 ? 2.5 : 5)", "as": "r0"},
          {"calculate": "datum.r0 * sin(datum.a * PI / 180)", "as": "sx"},
          {"calculate": "datum.r0 * cos(datum.a * PI / 180)", "as": "sy"},
          {"calculate": "15 * sin(datum.a * PI / 180)", "as": "ex"},
          {"calculate": "15 * cos(datum.a * PI / 180)", "as": "ey"}
        ],
        "mark": {"type": "rule", "strokeWidth": 1},
        "encoding": {
          "x": {"field": "sx", "type": "quantitative", "scale": {"domain": [-15, 15], "nice": false, "zero": false}, "axis": null},
          "y": {"field": "sy", "type": "quantitative", "scale": {"domain": [-15, 15], "nice": false, "zero": false},
            "axis": {"title": null, "grid": false, "offset": 19, "values": [-15,-14,-13,-12,-11,-10,-9,-8,-7,-6,-5,-4,-3,-2,-1,0,1,2,3,4,5,6,7,8,9,10,11,12,13,14,15], "labelExpr": "datum.value % 5 === 0 ? format(abs(datum.value) - 10, 'd') : ''", "labelOverlap": false, "labelBound": false, "domainColor": "#111", "domainWidth": 2.2, "tickColor": "#111", "tickWidth": 1.3, "tickSize": {"condition": {"test": "datum.value % 5 === 0", "value": 6}, "value": 3}, "labelFont": "Liberation Serif", "labelFontSize": 12, "labelColor": "#111", "labelPadding": 2}},
          "x2": {"field": "ex"},
          "y2": {"field": "ey"},
          "stroke": {"condition": {"test": "datum.a % 30 === 0", "value": "#c8c8c8"}, "value": "#e4e4e4"}
        }
      },
      {
        "transform": [{"filter": "datum.k === 'spoke' && datum.a % 30 === 0"}],
        "mark": {"type": "text", "radiusOffset": 9, "font": "Liberation Serif", "fontSize": 9, "color": "#333", "align": "center", "baseline": "middle"},
        "encoding": {
          "theta": {"field": "a", "type": "quantitative", "stack": null, "scale": {"domain": [0, 360], "range": [0, 6.283185307]}},
          "radius": {"datum": 5, "type": "quantitative"},
          "text": {"field": "a", "type": "quantitative", "format": "d"}
        }
      },
      {
        "transform": [{"filter": "datum.k === 'ring' && datum.g === 5"}, {"calculate": "'(' + datum.p + ')'", "as": "lab"}],
        "mark": {"type": "text", "dy": 45, "font": "Liberation Sans", "fontSize": 22, "color": "#000", "align": "center", "baseline": "middle"},
        "encoding": {
          "x": {"datum": 0, "type": "quantitative", "axis": null},
          "y": {"datum": -15, "type": "quantitative",
            "axis": {"title": null, "grid": false, "offset": 19, "values": [-15,-14,-13,-12,-11,-10,-9,-8,-7,-6,-5,-4,-3,-2,-1,0,1,2,3,4,5,6,7,8,9,10,11,12,13,14,15], "labelExpr": "datum.value % 5 === 0 ? format(abs(datum.value) - 10, 'd') : ''", "labelOverlap": false, "labelBound": false, "domainColor": "#111", "domainWidth": 2.2, "tickColor": "#111", "tickWidth": 1.3, "tickSize": {"condition": {"test": "datum.value % 5 === 0", "value": 6}, "value": 3}, "labelFont": "Liberation Serif", "labelFontSize": 12, "labelColor": "#111", "labelPadding": 2}},
          "text": {"field": "lab"}
        }
      },
      {
        "transform": [
          {"filter": {"field": "s", "oneOf": ["Mea xoy", "Mea yoz"]}},
          {"calculate": "(max(datum.g, -10) + 10) * sin(datum.a * PI / 180)", "as": "x"},
          {"calculate": "(max(datum.g, -10) + 10) * cos(datum.a * PI / 180)", "as": "y"}
        ],
        "mark": {"type": "line", "interpolate": "linear-closed", "strokeWidth": 1.8},
        "encoding": {
          "x": {"field": "x", "type": "quantitative", "axis": null},
          "y": {"field": "y", "type": "quantitative",
            "axis": {"title": null, "grid": false, "offset": 19, "values": [-15,-14,-13,-12,-11,-10,-9,-8,-7,-6,-5,-4,-3,-2,-1,0,1,2,3,4,5,6,7,8,9,10,11,12,13,14,15], "labelExpr": "datum.value % 5 === 0 ? format(abs(datum.value) - 10, 'd') : ''", "labelOverlap": false, "labelBound": false, "domainColor": "#111", "domainWidth": 2.2, "tickColor": "#111", "tickWidth": 1.3, "tickSize": {"condition": {"test": "datum.value % 5 === 0", "value": 6}, "value": 3}, "labelFont": "Liberation Serif", "labelFontSize": 12, "labelColor": "#111", "labelPadding": 2}},
          "order": {"field": "a", "type": "quantitative"},
          "color": {"field": "s", "type": "nominal",
            "scale": {"domain": ["Sim xoy", "Sim yoz", "Mea xoy", "Mea yoz"], "range": ["#0000ff", "#ff0000", "#0000ff", "#ff0000"]},
            "legend": {"title": null, "orient": "none", "direction": "horizontal", "legendX": 340, "legendY": 567, "columns": 2, "symbolType": "stroke", "symbolSize": 5625, "symbolStrokeWidth": 2, "labelFont": "Liberation Serif", "labelFontSize": 30, "labelColor": "#000", "labelOffset": 10, "columnPadding": -10, "rowPadding": 5, "clipHeight": 30, "labelLimit": 0}},
          "strokeDash": {"field": "s", "type": "nominal",
            "scale": {"domain": ["Sim xoy", "Sim yoz", "Mea xoy", "Mea yoz"], "range": [[1, 0], [1, 0], [3, 2], [3, 2]]},
            "legend": {"title": null, "orient": "none", "direction": "horizontal", "legendX": 340, "legendY": 567, "columns": 2, "symbolType": "stroke", "symbolSize": 5625, "symbolStrokeWidth": 2, "labelFont": "Liberation Serif", "labelFontSize": 30, "labelColor": "#000", "labelOffset": 10, "columnPadding": -10, "rowPadding": 5, "clipHeight": 30, "labelLimit": 0}}
        }
      },
      {
        "transform": [
          {"filter": {"field": "s", "oneOf": ["Sim xoy", "Sim yoz"]}},
          {"calculate": "(max(datum.g, -10) + 10) * sin(datum.a * PI / 180)", "as": "x"},
          {"calculate": "(max(datum.g, -10) + 10) * cos(datum.a * PI / 180)", "as": "y"}
        ],
        "mark": {"type": "line", "interpolate": "cardinal-closed", "strokeWidth": 2},
        "encoding": {
          "x": {"field": "x", "type": "quantitative", "axis": null},
          "y": {"field": "y", "type": "quantitative",
            "axis": {"title": null, "grid": false, "offset": 19, "values": [-15,-14,-13,-12,-11,-10,-9,-8,-7,-6,-5,-4,-3,-2,-1,0,1,2,3,4,5,6,7,8,9,10,11,12,13,14,15], "labelExpr": "datum.value % 5 === 0 ? format(abs(datum.value) - 10, 'd') : ''", "labelOverlap": false, "labelBound": false, "domainColor": "#111", "domainWidth": 2.2, "tickColor": "#111", "tickWidth": 1.3, "tickSize": {"condition": {"test": "datum.value % 5 === 0", "value": 6}, "value": 3}, "labelFont": "Liberation Serif", "labelFontSize": 12, "labelColor": "#111", "labelPadding": 2}},
          "order": {"field": "a", "type": "quantitative"},
          "color": {"field": "s", "type": "nominal"},
          "strokeDash": {"field": "s", "type": "nominal"}
        }
      }
    ]
  }
}
